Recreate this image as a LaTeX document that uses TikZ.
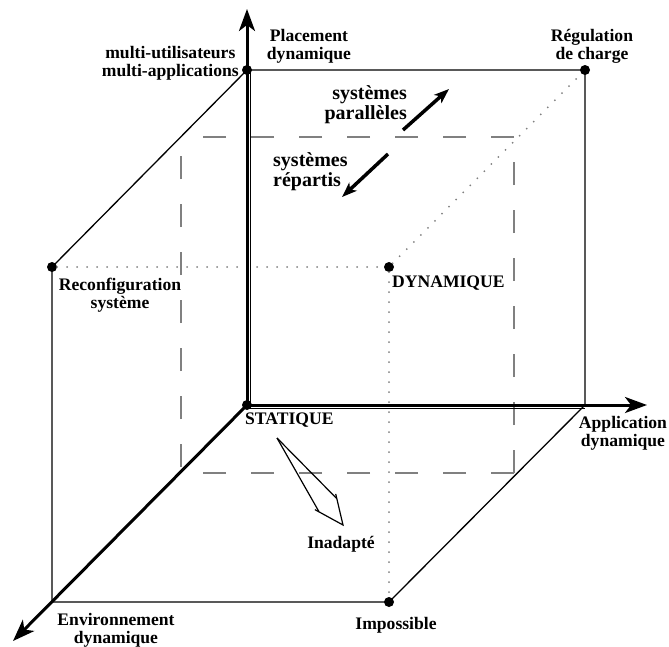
\documentclass[tikz,border=0pt]{standalone}
\usepackage{fontspec}
\setmainfont{Liberation Serif}
\usepackage{tikz}
\usetikzlibrary{positioning}
\usetikzlibrary{arrows.meta, calc}

\begin{document}
\begin{tikzpicture}[
    x = 1pt, y = -1pt,% pixel units, y going down
         dot/.style = {circle, fill, inner sep=0pt, minimum size=10pt},% cube corners
         lbl/.style = {inner sep=0pt, align=center, font=\fontsize{17.6}{18}\selectfont\bfseries},% corner labels
      biglbl/.style = {inner sep=0pt, font=\fontsize{20}{20}\selectfont\bfseries},
    cubeline/.style = {line width=1.3pt},
     axisarr/.style = {line width=3pt, -{Stealth[length=22pt, width=16pt, inset=6pt]}},
  hiddenline/.style = {gray, line width=2pt, line cap=round, dash pattern=on 0pt off 10pt},
   dashframe/.style = {gray, line width=2pt, dash pattern=on 23pt off 25pt},
       trend/.style = {line width=3.5pt, -{Stealth[length=15pt, width=11pt, inset=4pt]}}
    ]
    \useasboundingbox (0,0) rectangle (669,646);
    % corners of the cube
    \node[dot] (T)  at (247,70)  {};
    \node[dot] (TR) at (585,70)  {};
    \node[dot] (RC) at (52,267)  {};
    \node[dot] (DY) at (389,267) {};
    \node[dot] (IM) at (389,602) {};
    \node[dot] (O)  at (247,405) {};
    \coordinate (R)  at (585,405);
    \coordinate (BF) at (52,602);
    \coordinate (up)   at (247,9);
    \coordinate (xend) at (647,405);
    \coordinate (zend) at (13,641);
    % dashed frame
    \coordinate (f1) at (181,137);
    \coordinate (f2) at (514,137);
    \coordinate (f3) at (514,473);
    \coordinate (f4) at (181,473);
    \draw[dashframe] (f2) -- (f1);
    \draw[dashframe] (f3) -- (f2);
    \draw[dashframe] (f3) -- (f4);
    \draw[dashframe, dash phase=42pt] (f4) -- (f1);
    % hidden edges
    \draw[hiddenline] (RC) -- (DY) -- (TR);
    \draw[hiddenline] (DY) -- (IM);
    % visible edges
    \draw[cubeline] (RC.center) -- (T.center) -- (TR.center) -- (R) -- (IM.center) -- (BF) -- (RC.center);
    \draw[cubeline] ([xshift=3.5pt]O.center) -- ([xshift=3.5pt]T.center);
    \draw[cubeline] ([yshift=-3.5pt]O.center) -- ([yshift=-3.5pt]R);
    % axes
    \draw[axisarr] (O.center) -- (up);
    \draw[axisarr] (O.center) -- (xend);
    \draw[axisarr] (O.center) -- (zend);
    % trends
    \coordinate (p0) at (403,130);
    \coordinate (p1) at (449,89);
    \coordinate (r0) at (388,154);
    \coordinate (r1) at (342,197);
    \draw[trend] (p0) -- (p1);
    \draw[trend] (r0) -- (r1);
    % hollow arrow
    \coordinate (ha) at (277,438);
    \coordinate (hb) at (343,525);
    \draw[line width=1.2pt, line join=miter] (314.9,509.6) -- (hb) -- (335.7,493.9);
    \draw[line width=1.2pt] (ha) -- (318.9,511.5);
    \draw[line width=1.2pt] (ha) -- (336.5,498.3);
    % labels
    \node[lbl, anchor=east] (mu) at (239,63) {multi-utilisateurs\\multi-applications};
    \node[lbl] (pd) at (309,46) {Placement\\dynamique};
    \node[lbl] (rg) at (592,46) {Régulation\\de charge};
    \node[biglbl, align=right, anchor=east] (sp) at (407,105) {systèmes\\parallèles};
    \node[biglbl, align=left, anchor=west] (sr) at (273,172) {systèmes\\répartis};
    \node[lbl] (rs) at (120,295) {Reconfiguration\\système};
    \node[lbl, anchor=base west] (dn) at (392,287) {DYNAMIQUE};
    \node[lbl, anchor=base west] (st) at (245,424) {STATIQUE};
    \node[lbl] (ap) at (623,433) {Application\\dynamique};
    \node[lbl] (en) at (116,630) {Environnement\\dynamique};
    \node[lbl, anchor=base] (ip) at (396,629) {Impossible};
    \node[lbl, anchor=base] (ia) at (341,548) {Inadapté};
\end{tikzpicture}
\end{document}
